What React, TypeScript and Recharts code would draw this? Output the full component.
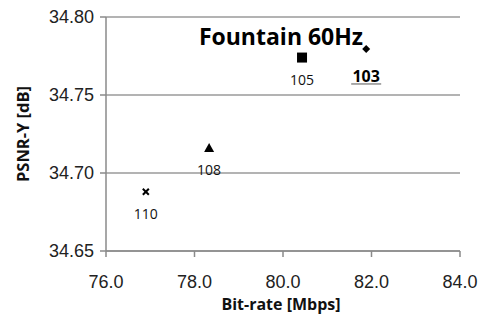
import React from 'react'
import { CartesianGrid, Label, LabelList, Scatter, ScatterChart, XAxis, YAxis } from 'recharts'

const qpLabels = ['110', '108', '105', '103']
const bitRates = [76.9, 78.33, 80.43, 81.88]
const psnrY = [34.688, 34.716, 34.774, 34.7795]
const markers = ['cross', 'triangle', 'square', 'diamond']
const xTicks = [76, 78, 80, 82, 84]
const yTicks = [34.65, 34.7, 34.75, 34.8]

const series = qpLabels.map((qp, i) => ({
    name: qp,
    marker: markers[i],
    points: [{ rate: bitRates[i], psnr: psnrY[i], qp }],
}))

const Marker = (props: any) => {
    const { cx, cy, kind } = props
    if (kind === 'cross') {
        return (
            <g stroke="#000" strokeWidth={2}>
                <line x1={cx - 3} y1={cy - 3} x2={cx + 3} y2={cy + 3} />
                <line x1={cx - 3} y1={cy + 3} x2={cx + 3} y2={cy - 3} />
            </g>
        )
    }
    if (kind === 'triangle') {
        return <polygon points={`${cx},${cy - 5} ${cx + 5},${cy + 4} ${cx - 5},${cy + 4}`} fill="#000" />
    }
    if (kind === 'square') {
        return <rect x={cx - 5} y={cy - 5} width={10} height={10} fill="#000" />
    }
    return <polygon points={`${cx},${cy - 4} ${cx + 4},${cy} ${cx},${cy + 4} ${cx - 4},${cy}`} fill="#000" />
}

const QpLabel = (props: any) => {
    const { x, y, width, height, value } = props
    const cx = x + width / 2
    const cy = y + height / 2
    if (value === '103') {
        return (
            <g>
                <text x={cx} y={cy + 33} textAnchor="middle" fontSize={16} fontWeight="bold"
                    fontFamily="'Open Sans', sans-serif" style={{ fill: '#000' }}>{value}</text>
                <line x1={cx - 15} x2={cx + 15} y1={cy + 35} y2={cy + 35} stroke="#555" strokeWidth={1} />
            </g>
        )
    }
    return (
        <text x={cx} y={cy + 27} textAnchor="middle" fontSize={14}
            fontFamily="'Open Sans', sans-serif" style={{ fill: '#111' }}>{value}</text>
    )
}

const App = () => {
    return (
        <div style={{ position: 'absolute', left: 0, top: 0, background: '#fff' }}>
            <ScatterChart width={482} height={314} margin={{ top: 17, right: 22, bottom: 0, left: 0 }}>
                <CartesianGrid vertical={false} stroke="#9a9a9a" strokeWidth={1.5} />
                <XAxis
                    type="number"
                    dataKey="rate"
                    domain={[76, 84]}
                    ticks={xTicks}
                    tickFormatter={v => v.toFixed(1)}
                    height={63}
                    stroke="#8a8a8a"
                    strokeWidth={1.5}
                    tickSize={6}
                    tickMargin={18}
                    tick={{ fill: '#222', fontSize: 18, fontFamily: "'Liberation Sans', Arial, sans-serif" }}
                >
                    <Label
                        value="Bit-rate [Mbps]"
                        position="insideBottom"
                        offset={4}
                        dx={-2}
                        style={{ fontSize: 16, fontWeight: 'bold', fontFamily: "'Open Sans', sans-serif", fill: '#111' }}
                    />
                </XAxis>
                <YAxis
                    type="number"
                    dataKey="psnr"
                    domain={[34.65, 34.8]}
                    ticks={yTicks}
                    tickFormatter={v => v.toFixed(2)}
                    width={106}
                    stroke="#8a8a8a"
                    strokeWidth={1.5}
                    tickSize={6}
                    tickMargin={6}
                    tick={{ fill: '#222', fontSize: 18, fontFamily: "'Liberation Sans', Arial, sans-serif" }}
                >
                    <Label
                        value="PSNR-Y [dB]"
                        angle={-90}
                        position="insideLeft"
                        offset={23}
                        style={{ textAnchor: 'middle', fontSize: 16.5, fontWeight: 'bold', fontFamily: "'Open Sans', sans-serif", fill: '#111' }}
                    />
                </YAxis>
                {series.map(s => (
                    <Scatter
                        key={s.name}
                        name={s.name}
                        data={s.points}
                        isAnimationActive={false}
                        shape={(p: any) => <Marker {...p} kind={s.marker} />}
                    >
                        <LabelList dataKey="qp" content={QpLabel} />
                    </Scatter>
                ))}
                <text x={281} y={45} textAnchor="middle" fontSize={23} fontWeight="bold"
                    fontFamily="'Open Sans', sans-serif" fill="#000">Fountain 60Hz</text>
            </ScatterChart>
        </div>
    )
}

export default App
